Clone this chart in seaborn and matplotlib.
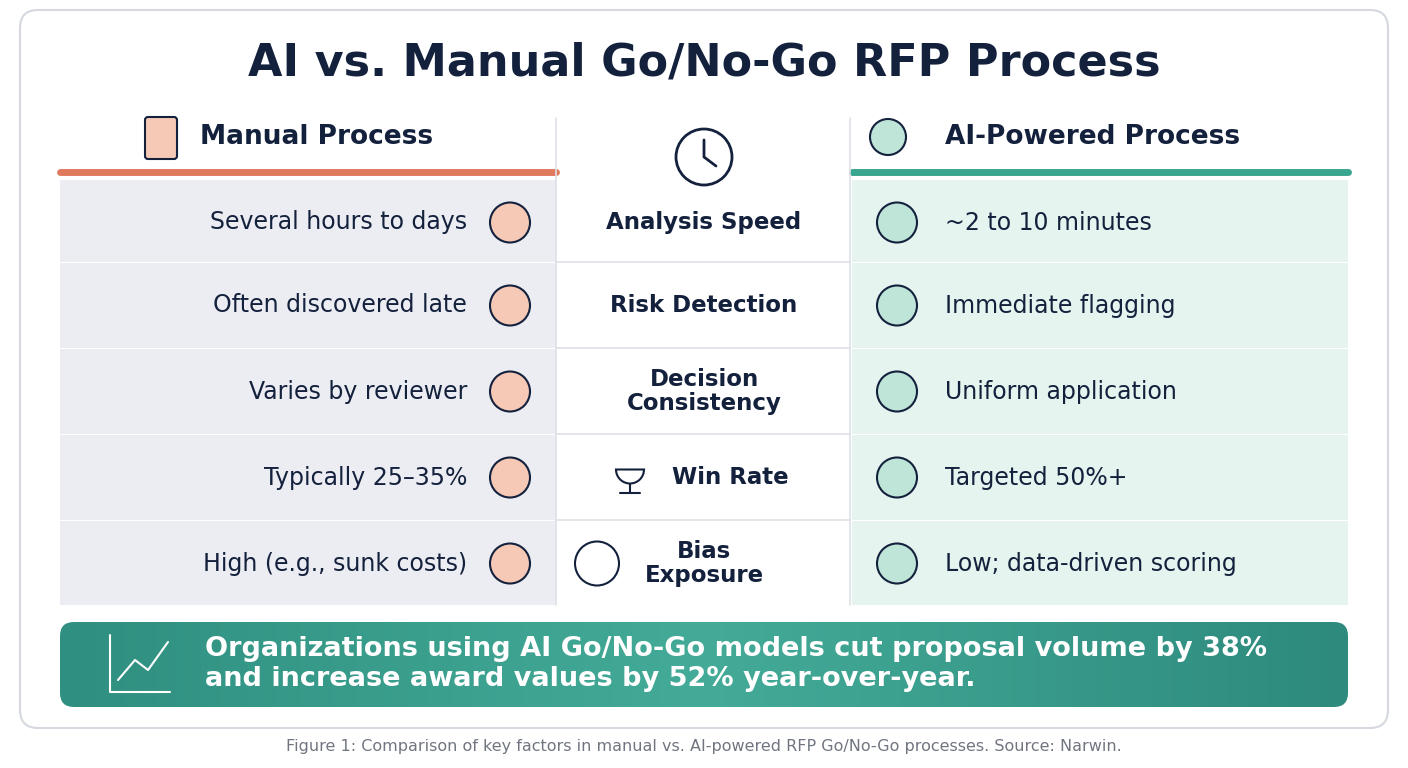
import numpy as np
import matplotlib
matplotlib.use("Agg")
import matplotlib.pyplot as plt
import seaborn as sns
from matplotlib.patches import FancyBboxPatch, Rectangle, Circle, Wedge
from matplotlib.colors import LinearSegmentedColormap

sns.set_theme(style="white")
plt.rcParams["font.family"] = ["DejaVu Sans"]

title = "AI vs. Manual Go/No-Go RFP Process"
left_header = "Manual Process"
right_header = "AI-Powered Process"
factors = ["Analysis Speed", "Risk Detection", "Decision\nConsistency", "Win Rate", "Bias\nExposure"]
manual = ["Several hours to days", "Often discovered late", "Varies by reviewer",
          "Typically 25–35%", "High (e.g., sunk costs)"]
ai = ["~2 to 10 minutes", "Immediate flagging", "Uniform application",
      "Targeted 50%+", "Low; data-driven scoring"]
banner = ("Organizations using AI Go/No-Go models cut proposal volume by 38%\n"
          "and increase award values by 52% year-over-year.")
caption = "Figure 1: Comparison of key factors in manual vs. AI-powered RFP Go/No-Go processes. Source: Narwin."

NAVY = "#14213d"
ORANGE = "#e07a5f"
TEAL = "#3aa58f"
LEFT_BG = "#ecedf2"
RIGHT_BG = "#e5f4ef"

fig = plt.figure(figsize=(14.08, 7.68), dpi=100)
ax = fig.add_axes([0, 0, 1, 1])
ax.set_xlim(0, 1408)
ax.set_ylim(768, 0)
ax.axis("off")

# card
ax.add_patch(FancyBboxPatch((20, 10), 1368, 718, boxstyle="round,pad=0,rounding_size=18",
                            fc="white", ec="#d5d8de", lw=1.5))
ax.text(704, 63, title, ha="center", va="center", fontsize=32, weight="bold", color=NAVY)

# headers
ax.text(200, 137, left_header, ha="left", va="center", fontsize=19, weight="bold", color=NAVY)
ax.text(945, 137, right_header, ha="left", va="center", fontsize=19, weight="bold", color=NAVY)
ax.plot([60, 556], [172, 172], color=ORANGE, lw=5, solid_capstyle="round")
ax.plot([852, 1348], [172, 172], color=TEAL, lw=5, solid_capstyle="round")
# header icons
ax.add_patch(FancyBboxPatch((145, 117), 32, 42, boxstyle="round,pad=0,rounding_size=3",
                            fc="#f6c9b6", ec=NAVY, lw=1.5))
ax.add_patch(Circle((888, 137), 18, fc="#bfe5d8", ec=NAVY, lw=1.5))
ax.add_patch(Circle((704, 157), 28, fc="white", ec=NAVY, lw=2))
ax.plot([704, 704, 716], [140, 157, 166], color=NAVY, lw=2)
ax.plot([556, 556], [118, 605], color="#dde0e6", lw=1.2)
ax.plot([850, 850], [118, 605], color="#dde0e6", lw=1.2)

# rows
tops = [180, 263, 349, 435, 521]
h = 85
for i in range(len(factors)):
    y0 = tops[i]
    yc = y0 + h / 2
    bottom = tops[i + 1] - 1.5 if i < len(factors) - 1 else 605
    ax.add_patch(Rectangle((60, y0), 496, bottom - y0, fc=LEFT_BG, ec="none"))
    ax.add_patch(Rectangle((852, y0), 496, bottom - y0, fc=RIGHT_BG, ec="none"))
    if i < len(factors) - 1:
        ax.plot([556, 850], [tops[i + 1] - 0.75] * 2, color="#dde0e6", lw=1.2)
    ax.text(467, yc, manual[i], ha="right", va="center", fontsize=17, color=NAVY)
    ax.text(945, yc, ai[i], ha="left", va="center", fontsize=17, color=NAVY)
    mx = 704
    if factors[i] == "Win Rate":
        mx = 730
        ax.add_patch(Wedge((630, yc - 8), 14, 0, 180, fc="white", ec=NAVY, lw=1.5))
        ax.plot([630, 630], [yc + 6, yc + 14], color=NAVY, lw=1.5)
        ax.plot([620, 640], [yc + 15, yc + 15], color=NAVY, lw=1.5)
    if factors[i].startswith("Bias"):
        ax.add_patch(Circle((597, yc), 22, fc="white", ec=NAVY, lw=1.5))
    ax.text(mx, yc, factors[i], ha="center", va="center", fontsize=16.5, weight="bold",
            color=NAVY, linespacing=1.05)
    # icons
    ax.add_patch(Circle((510, yc), 20, fc="#f6c9b6", ec=NAVY, lw=1.5))
    ax.add_patch(Circle((897, yc), 20, fc="#bfe5d8", ec=NAVY, lw=1.5))

# banner with gradient
grad = np.linspace(0, 1, 256).reshape(1, -1)
bb = FancyBboxPatch((60, 622), 1288, 85, boxstyle="round,pad=0,rounding_size=14",
                    fc="none", ec="none")
ax.add_patch(bb)
cmap = LinearSegmentedColormap.from_list("t", ["#2f8f80", "#44ab98", "#2d8a7d"])
im = ax.imshow(grad, cmap=cmap, extent=(60, 1348, 707, 622), aspect="auto", zorder=2)
im.set_clip_path(bb)
ax.set_xlim(0, 1408)
ax.set_ylim(768, 0)
ax.plot([110, 110, 170], [635, 692, 692], color="white", lw=1.5, zorder=3)
ax.plot([118, 135, 148, 168], [680, 660, 670, 642], color="white", lw=1.5, zorder=3)
ax.text(205, 664, banner, ha="left", va="center", fontsize=19.5, weight="bold",
        color="white", linespacing=1.15, zorder=3)

ax.text(704, 746, caption, ha="center", va="center", fontsize=11.5, color="#707580")

fig.savefig("out.png", dpi=100)
